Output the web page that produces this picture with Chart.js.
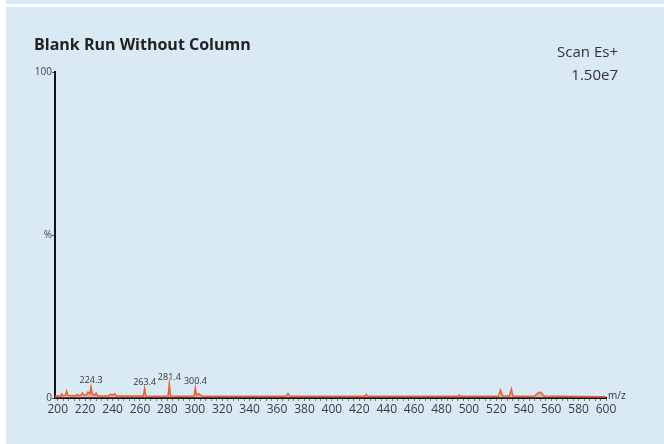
<!DOCTYPE html>
<html>
<head>
  <meta charset="utf-8">
  <title>Blank Run Without Column</title>
  <script src="https://cdn.jsdelivr.net/npm/chart.js@4/dist/chart.umd.min.js"></script>
  <style>
    body { margin: 0; background: #ffffff; }
    #topband { position: absolute; left: 6px; top: 0; width: 658px; height: 4px; background: #d9eaf4; }
    #panel { position: absolute; left: 6px; top: 7px; width: 658px; height: 437px; background: #d9eaf4; }
    #title { position: absolute; left: 28px; top: 26px; font: bold 16px "Open Sans", sans-serif; color: #222; }
    #scan { position: absolute; right: 46px; top: 33px; text-align: right; font: 15px "Open Sans", sans-serif; color: #333; line-height: 23px; }
    .chart-box { position: absolute; left: 0; top: 0; width: 658px; height: 437px; }
  </style>
</head>
<body>
  <div id="topband"></div>
  <div id="panel">
    <div class="chart-box"><canvas id="canvas"></canvas></div>
    <div id="title">Blank Run Without Column</div>
    <div id="scan">Scan Es+<br>1.50e7</div>
  </div>
  <script>
    // m/z positions and relative intensity (%)
    var mz = [198, 200, 202, 203, 204, 205.5, 206.5, 207.5, 210, 213, 214, 215, 217, 218, 219, 221, 222, 223.5, 224.3, 225.2, 227, 228, 229, 232, 237, 238.5, 240, 241.5, 243,
      250, 262.5, 263.4, 264.3, 270, 280.5, 281.4, 282.3, 290, 299.5, 300.4, 301.3, 303, 304, 306, 320, 340, 366.5, 368, 369.5, 400, 424, 425, 426,
      460, 492, 493, 494, 510, 521.5, 523, 524.5, 529.5, 531, 532, 540, 548, 550, 551.5, 553, 555, 570, 600];
    var intensity = [0.5, 0.6, 0.6, 1.2, 0.7, 0.8, 2.1, 0.8, 0.7, 0.7, 1.1, 0.7, 0.9, 1.5, 0.9, 1.0, 1.8, 1.4, 3.4, 1.2, 0.9, 1.5, 0.7, 0.6, 0.6, 1.2, 0.8, 1.3, 0.6,
      0.6, 0.6, 2.9, 0.6, 0.5, 0.6, 4.3, 0.6, 0.5, 0.6, 3.1, 0.9, 1.3, 0.9, 0.5, 0.5, 0.5, 0.5, 1.4, 0.5, 0.5, 0.5, 1.1, 0.5,
      0.5, 0.5, 0.9, 0.5, 0.5, 0.5, 2.4, 0.6, 0.6, 2.7, 0.6, 0.5, 0.6, 1.4, 1.8, 1.5, 0.6, 0.5, 0.4];

    // labelled peaks
    var peakMz = [224.3, 263.4, 281.4, 300.4];
    var peakHeights = [3.4, 2.9, 4.3, 3.1];
    var peakLabels = ['224.3', '263.4', '281.4', '300.4'];

    var xTickLabels = [200, 220, 240, 260, 280, 300, 320, 340, 360, 380, 400, 420, 440, 460, 480, 500, 520, 540, 560, 580, 600];
    var yTicks = [0, 50, 100];
    var yTickLabels = ['0', '%', '100'];

    var points = mz.map(function (m, i) {
      return { x: m, y: intensity[i] };
    });

    var annotate = {
      id: 'annotate',
      afterDraw: function (chart) {
        var ctx = chart.ctx;
        var xs = chart.scales.x, ys = chart.scales.y;
        ctx.save();
        ctx.fillStyle = '#333';
        ctx.font = '9px "Open Sans", sans-serif';
        ctx.textAlign = 'center';
        ctx.textBaseline = 'bottom';
        peakMz.forEach(function (m, i) {
          ctx.fillText(peakLabels[i], xs.getPixelForValue(m), ys.getPixelForValue(peakHeights[i]) - 2);
        });
        ctx.textAlign = 'left';
        ctx.textBaseline = 'middle';
        ctx.font = '10px "Open Sans", sans-serif';
        ctx.fillText('m/z', chart.chartArea.right + 2, chart.chartArea.bottom - 2);
        ctx.restore();
      }
    };

    var chartObject = document.getElementById('canvas');
    var chart1 = new Chart(chartObject, {
      type: 'line',
      data: {
        datasets: [{
          data: points,
          borderColor: '#e2603c',
          backgroundColor: 'rgba(232,112,80,0.45)',
          borderWidth: 1.5,
          pointRadius: 0,
          fill: 'origin',
          tension: 0
        }]
      },
      options: {
        responsive: true,
        maintainAspectRatio: false,
        animation: false,
        layout: { padding: { top: 65, right: 58, left: 0, bottom: 0 } },
        plugins: { legend: { display: false }, tooltip: { enabled: false } },
        scales: {
          x: {
            type: 'linear',
            min: 198,
            max: 600,
            afterFit: function (s) { s.height = 46; },
            afterBuildTicks: function (s) {
              var t = [];
              for (var v = 200; v <= 600; v += 4) t.push({ value: v });
              s.ticks = t;
            },
            ticks: {
              autoSkip: false,
              maxRotation: 0,
              padding: 1,
              color: '#3a3a3a',
              font: { family: '"Open Sans", sans-serif', size: 12 },
              callback: function (v) { return xTickLabels.indexOf(v) >= 0 ? String(v) : ''; }
            },
            grid: { drawOnChartArea: false, tickLength: 3, color: '#7a7a7a' },
            border: { color: '#111', width: 2 }
          },
          y: {
            min: 0,
            max: 100,
            afterFit: function (s) { s.width = 49; },
            afterBuildTicks: function (s) {
              s.ticks = yTicks.map(function (v) { return { value: v }; });
            },
            ticks: {
              padding: 0,
              color: '#444',
              font: { family: '"Open Sans", sans-serif', size: 10 },
              callback: function (v) { return yTickLabels[yTicks.indexOf(v)]; }
            },
            grid: { drawOnChartArea: false, tickLength: 3, color: '#555' },
            border: { color: '#111', width: 2 }
          }
        }
      },
      plugins: [annotate]
    });
  </script>
</body>
</html>
